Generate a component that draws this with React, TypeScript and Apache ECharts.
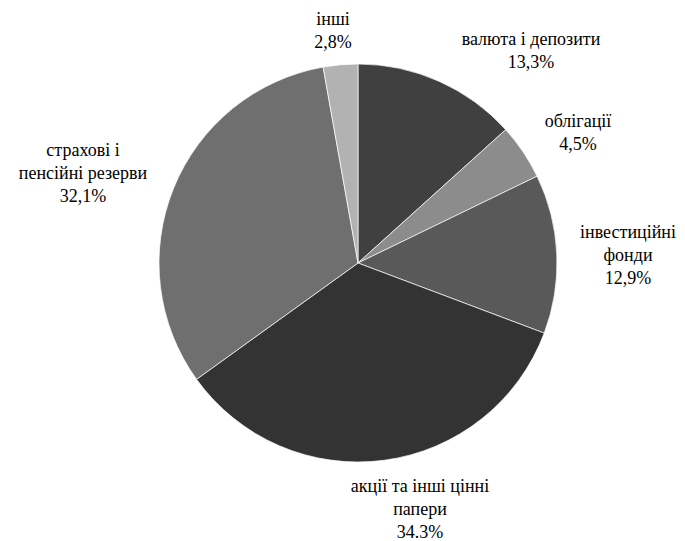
import React, { useEffect, useRef } from "react";
import * as echarts from "echarts";

const names = [
  "валюта і депозити",
  "облігації",
  "інвестиційні\nфонди",
  "акції та інші цінні\nпапери",
  "страхові і\nпенсійні резерви",
  "інші",
];
const values = [13.3, 4.5, 12.9, 34.3, 32.1, 2.8];
const valueLabels = ["13,3%", "4,5%", "12,9%", "34.3%", "32,1%", "2,8%"];
const colors = ["#404040", "#8c8c8c", "#595959", "#333333", "#6f6f6f", "#b2b2b2"];

// label anchor positions (centre of each text block), in pixels
const labelAnchors: [number, number][] = [
  [531, 50],
  [578, 132],
  [628, 255],
  [420, 509],
  [83, 173],
  [333, 30],
];

export default function App() {
  const ref = useRef<HTMLDivElement>(null);
  useEffect(() => {
    if (!ref.current) return;
    const chart = echarts.init(ref.current, undefined, { renderer: "svg" });
    chart.setOption({
      animation: false,
      backgroundColor: "#ffffff",
      series: [
        {
          type: "pie",
          center: [358, 263],
          radius: 199,
          startAngle: 90,
          clockwise: true,
          avoidLabelOverlap: false,
          itemStyle: { borderColor: "#ffffff", borderWidth: 0.7 },
          label: {
            show: true,
            position: "outside",
            fontFamily: "Liberation Serif",
            fontSize: 18,
            lineHeight: 23,
            color: "#000000",
            align: "center",
            formatter: (p: any) => `${names[p.dataIndex]}\n${valueLabels[p.dataIndex]}`,
          },
          labelLine: { show: false },
          labelLayout: (p: any) => ({
            x: labelAnchors[p.dataIndex][0],
            y: labelAnchors[p.dataIndex][1],
            align: "center",
            verticalAlign: "middle",
          }),
          emphasis: { disabled: true },
          data: values.map((v, i) => ({
            name: names[i],
            value: v,
            itemStyle: { color: colors[i] },
          })),
        },
      ],
    });
    return () => chart.dispose();
  }, []);
  return (
    <div
      ref={ref}
      style={{ position: "fixed", left: 0, top: 0, width: 685, height: 541 }}
    />
  );
}
